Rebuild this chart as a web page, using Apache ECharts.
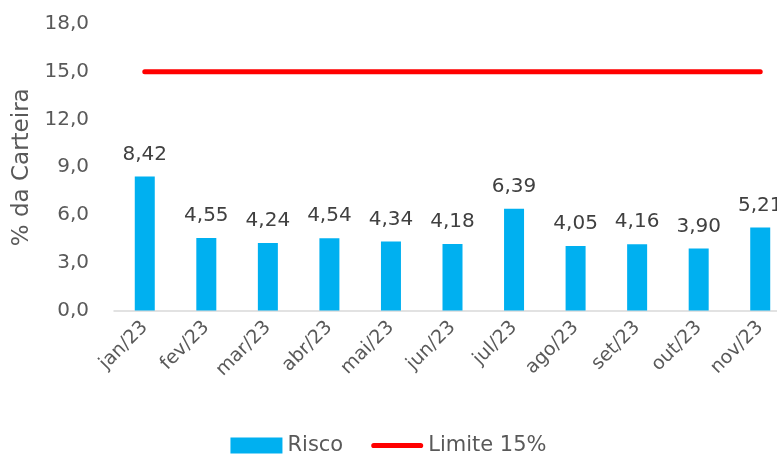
<!DOCTYPE html>
<html><head><meta charset="utf-8">
<script src="https://cdn.jsdelivr.net/npm/echarts@6/dist/echarts.min.js"></script>
<style>html,body{margin:0;padding:0;background:#fff}#c{width:777px;height:458px}</style>
</head><body><div id="c"></div>
<script>
const categories = ['jan/23','fev/23','mar/23','abr/23','mai/23','jun/23','jul/23','ago/23','set/23','out/23','nov/23'];
const risco = [8.42,4.55,4.24,4.54,4.34,4.18,6.39,4.05,4.16,3.90,5.21];
const limite = [15,15,15,15,15,15,15,15,15,15,15];
const yTicks = {min:0, max:18, interval:3};
const FONT = 'DejaVu Sans';
const TXT = '#595959';
const fmt = (v, d) => v.toFixed(d).replace('.', ',');
const chart = echarts.init(document.getElementById('c'));
chart.setOption({
  animation:false,
  textStyle:{fontFamily:FONT},
  grid:{left:114, right:-14, top:24, bottom:147.5, containLabel:false, outerBoundsMode:'none'},
  legend:{bottom:-3, left:'center', itemGap:28, itemWidth:52, itemHeight:16,
    textStyle:{fontFamily:FONT, fontSize:21, color:TXT},
    data:[{name:'Risco', icon:'rect'},
          {name:'Limite 15%', icon:'path://M5,0 H95 A5,5 0 0 1 95,10 H5 A5,5 0 0 1 5,0 Z'}]},
  xAxis:{type:'category', data:categories,
    axisLine:{lineStyle:{color:'#d9d9d9', width:1.5}}, axisTick:{show:false},
    axisLabel:{rotate:45, fontSize:19, color:TXT, fontFamily:FONT, margin:14, interval:0}},
  yAxis:{type:'value', min:yTicks.min, max:yTicks.max, interval:yTicks.interval,
    name:'% da Carteira', nameLocation:'middle', nameGap:69, nameRotate:90,
    nameTextStyle:{fontSize:23, color:TXT, fontFamily:FONT},
    axisLabel:{fontSize:20, color:TXT, fontFamily:FONT, margin:25, formatter:v=>fmt(v,1)},
    splitLine:{show:false}, axisLine:{show:false}, axisTick:{show:false}},
  series:[
    {name:'Risco', type:'bar', data:risco, barWidth:20, itemStyle:{color:'#00B0F0'},
     label:{show:true, position:'top', distance:12, fontSize:20, color:'#404040', fontFamily:FONT, formatter:p=>fmt(p.value,2)}},
    {name:'Limite 15%', type:'line', data:limite, symbol:'none', itemStyle:{color:'#FF0000'},
     lineStyle:{color:'#FF0000', width:5, cap:'round'}}
  ]
});
</script></body></html>
